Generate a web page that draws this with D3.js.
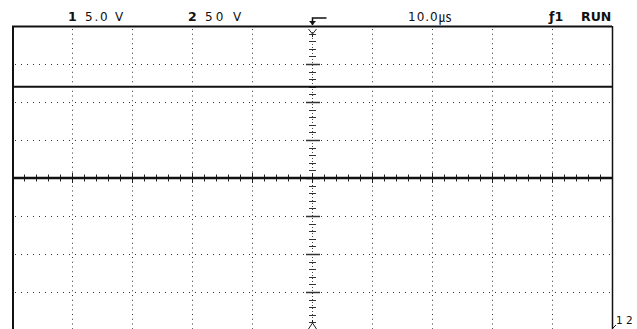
<!DOCTYPE html>
<html><head><meta charset="utf-8">
<script src="https://cdn.jsdelivr.net/npm/d3@7"></script>
<style>
html,body{margin:0;padding:0;background:#fff;}
svg{display:block;}
text{font-family:"DejaVu Sans",sans-serif;fill:#111;}
</style></head>
<body><svg id="c" width="637" height="329"></svg>
<script>
// ---- data ----
const timeDivs = 10;               // horizontal divisions
const voltDivs = 8;                // vertical divisions
const timePerDiv = 10.0;           // µs / div
const ch1VoltsPerDiv = 5.0;
const ch2VoltsPerDiv = 50;
const headerLabels = [
  {ch:"1", scale:"5.0 V"},
  {ch:"2", scale:"50 V"}
];
const timebaseNum = "10.0";
const timebaseUnit = "\u33B2";
const triggerLabel = "\u01921";
const statusLabel = "RUN";
const groundLabel = "1 2";
const sampleTimes = [-50,-40,-30,-20,-10,0,10,20,30,40,50];      // µs
const ch1Values   = [12.0,12.0,12.0,12.0,12.0,12.0,12.0,12.0,12.0,12.0,12.0]; // V
const ch2Values   = [0,0,0,0,0,0,0,0,0,0,0];                       // V

// ---- layout ----
const svg = d3.select("#c");
const L=12, R=612, T=26, B=330;
const x = d3.scaleLinear().domain([-timeDivs/2*timePerDiv, timeDivs/2*timePerDiv]).range([L,R]);
const yDiv = d3.scaleLinear().domain([-voltDivs/2, voltDivs/2]).range([B,T]);
const ink = "#111";

// grid (dotted)
const g = svg.append("g");
const xGrid = d3.range(-timeDivs/2+1, timeDivs/2).map(d=>d*timePerDiv).filter(d=>d!==0);
const yGrid = d3.range(-voltDivs/2+1, voltDivs/2).filter(d=>d!==0);
g.selectAll("line.vg").data(xGrid).join("line")
  .attr("x1",d=>Math.round(x(d))+0.5).attr("x2",d=>Math.round(x(d))+0.5)
  .attr("y1",T+3).attr("y2",B)
  .attr("stroke","#333").attr("stroke-width",1).attr("stroke-dasharray","1 3.75");
g.selectAll("line.hg").data(yGrid).join("line")
  .attr("y1",d=>Math.round(yDiv(d))+0.5).attr("y2",d=>Math.round(yDiv(d))+0.5)
  .attr("x1",L+3).attr("x2",R-2)
  .attr("stroke","#333").attr("stroke-width",1).attr("stroke-dasharray","1 5");

// centre vertical axis: dotted with minor ticks
const cx = Math.round(x(0))+0.5;
g.append("line").attr("x1",cx).attr("x2",cx).attr("y1",T+6).attr("y2",B-8)
  .attr("stroke","#444").attr("stroke-dasharray","1 2");
const vMinor = d3.range(-voltDivs/2*5+1, voltDivs/2*5).map(d=>d/5);
g.selectAll("line.vm").data(vMinor).join("line")
  .attr("x1",d=> (Math.abs(d%1)<1e-6)? cx-6.5 : cx-3.5)
  .attr("x2",d=> (Math.abs(d%1)<1e-6)? cx+7.5 : cx+3.5)
  .attr("y1",d=>Math.round(yDiv(d))+0.5).attr("y2",d=>Math.round(yDiv(d))+0.5)
  .attr("stroke","#333").attr("stroke-width",d=> (Math.abs(d%1)<1e-6)?1.5:1);

// centre horizontal axis ticks
const cy = yDiv(0);
const hMinor = d3.range(-timeDivs/2*5+1, timeDivs/2*5).map(d=>d*timePerDiv/5);
g.selectAll("line.hm").data(hMinor).join("line")
  .attr("x1",d=>Math.round(x(d))+0.5).attr("x2",d=>Math.round(x(d))+0.5)
  .attr("y1",d=> (Math.abs((d/timePerDiv)%1)<1e-6)? cy-5 : cy-3.5)
  .attr("y2",d=> (Math.abs((d/timePerDiv)%1)<1e-6)? cy+5 : cy+3.5)
  .attr("stroke","#222").attr("stroke-width",1);

// traces
const line = (vals, vpd) => d3.line().x((d,i)=>x(sampleTimes[i])).y(d=>yDiv(d/vpd))(vals);
svg.append("path").attr("d",line(ch1Values,ch1VoltsPerDiv))
  .attr("fill","none").attr("stroke",ink).attr("stroke-width",2);
svg.append("path").attr("d",line(ch2Values,ch2VoltsPerDiv))
  .attr("fill","none").attr("stroke",ink).attr("stroke-width",2.5);

// frame
svg.append("path").attr("d",`M${L+1},${B}V${T+0.5}H${R}`)
  .attr("fill","none").attr("stroke",ink).attr("stroke-width",2);
svg.append("path").attr("d",`M${R+0.5},${T}V${B}`)
  .attr("fill","none").attr("stroke",ink).attr("stroke-width",1.5);

// trigger position marker at top
svg.append("path").attr("d",`M${cx},${T-1}V${18}H${cx+14}`)
  .attr("fill","none").attr("stroke",ink).attr("stroke-width",1.5);
svg.append("path").attr("d",`M${cx-3.5},${T-5}L${cx},${T-1}L${cx+3.5},${T-5}Z`).attr("fill",ink);
// time reference markers
svg.append("path").attr("d",`M${cx-4},${T+3}L${cx},${T+8}L${cx+4},${T+3}M${cx},${T+8}V${T+11}`)
  .attr("fill","none").attr("stroke","#222").attr("stroke-width",1);
svg.append("path").attr("d",`M${cx-4},${329}L${cx},${323}L${cx+4},${329}M${cx},${323}V${320}`)
  .attr("fill","none").attr("stroke","#222").attr("stroke-width",1);

// header text
const hx = [[68,85],[188,205]];
headerLabels.forEach((h,i)=>{
  svg.append("text").attr("x",hx[i][0]).attr("y",21).attr("font-size",12.5).attr("font-weight","bold").text(h.ch);
  svg.append("text").attr("x",hx[i][1]).attr("y",21).attr("font-size",12).attr("letter-spacing",i===0?"1.8px":"3px")
    .attr("fill","#333").text(h.scale);
});
const tb = svg.append("text").attr("x",408).attr("y",21).attr("font-size",12).attr("letter-spacing","1px").attr("fill","#333");
tb.append("tspan").text(timebaseNum);
tb.append("tspan").attr("font-family","'Noto Sans CJK KR'").attr("font-size",13).text(timebaseUnit);
svg.append("text").attr("x",549).attr("y",21).attr("font-size",12.5).attr("font-weight","bold").text(triggerLabel);
svg.append("text").attr("x",581).attr("y",21).attr("font-size",12.5).attr("font-weight","bold").text(statusLabel);

// channel ground markers bottom right
svg.append("text").attr("x",616).attr("y",324).attr("font-size",10.5).text(groundLabel);
svg.append("path").attr("d",`M613,328l3,-3`).attr("stroke",ink).attr("stroke-width",1);
</script></body></html>
